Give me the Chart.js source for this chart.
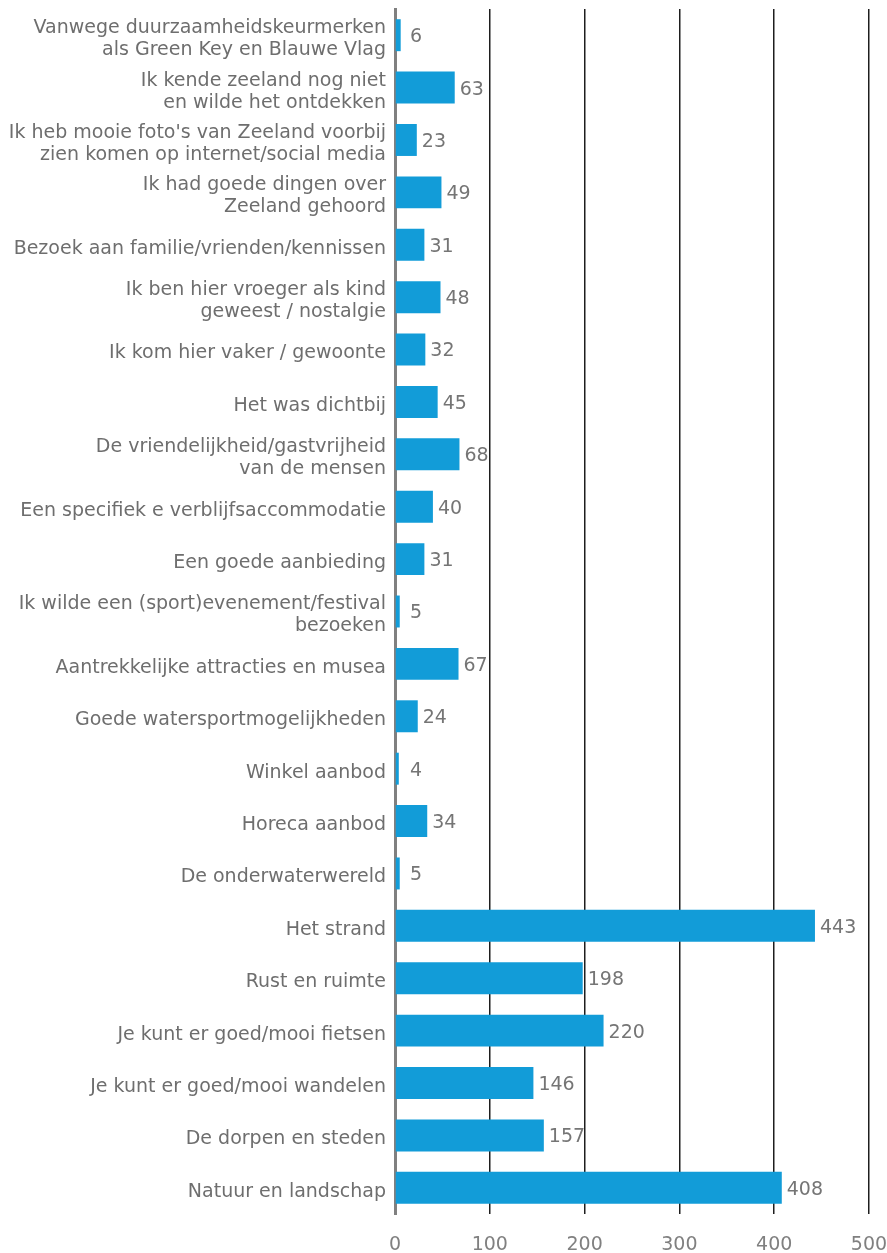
<!DOCTYPE html>
<html><head><meta charset="utf-8">
<script src="https://cdn.jsdelivr.net/npm/chart.js@4"></script>
<style>html,body{margin:0;padding:0;background:#fff;}#wrap{width:887px;height:1253px;}</style>
</head><body><div id="wrap"><canvas id="c"></canvas></div>
<script>
const categories = [
  ["Vanwege duurzaamheidskeurmerken","als Green Key en Blauwe Vlag"],
  ["Ik kende zeeland nog niet","en wilde het ontdekken"],
  ["Ik heb mooie foto's van Zeeland voorbij","zien komen op internet/social media"],
  ["Ik had goede dingen over","Zeeland gehoord"],
  "Bezoek aan familie/vrienden/kennissen",
  ["Ik ben hier vroeger als kind","geweest / nostalgie"],
  "Ik kom hier vaker / gewoonte",
  "Het was dichtbij",
  ["De vriendelijkheid/gastvrijheid","van de mensen"],
  "Een specifiek e verblijfsaccommodatie",
  "Een goede aanbieding",
  ["Ik wilde een (sport)evenement/festival","bezoeken"],
  "Aantrekkelijke attracties en musea",
  "Goede watersportmogelijkheden",
  "Winkel aanbod",
  "Horeca aanbod",
  "De onderwaterwereld",
  "Het strand",
  "Rust en ruimte",
  "Je kunt er goed/mooi fietsen",
  "Je kunt er goed/mooi wandelen",
  "De dorpen en steden",
  "Natuur en landschap"
];
const values = [6,63,23,49,31,48,32,45,68,40,31,5,67,24,4,34,5,443,198,220,146,157,408];
const xTicks = [0,100,200,300,400,500];

const FONT = "'DejaVu Sans', sans-serif";
const valueLabels = {
  id:'valueLabels',
  afterDatasetsDraw(chart){
    const ctx = chart.ctx;
    const meta = chart.getDatasetMeta(0);
    const xs = chart.scales.x;
    ctx.save();
    ctx.font = "19px " + FONT;
    ctx.fillStyle = '#757575';
    ctx.textBaseline = 'middle';
    ctx.textAlign = 'left';
    meta.data.forEach((bar,i)=>{
      const x = Math.max(bar.x + 5, xs.getPixelForValue(0) + 15);
      ctx.fillText(String(values[i]), x, bar.y + 2);
    });
    ctx.restore();
  }
};

new Chart(document.getElementById('c'), {
  type:'bar',
  data:{labels:categories, datasets:[{data:values, backgroundColor:'#129cd8', barPercentage:0.61, categoryPercentage:1.0}]},
  options:{
    indexAxis:'y', responsive:true, maintainAspectRatio:false, animation:false,
    layout:{padding:{top:9,right:18,left:0,bottom:0}},
    plugins:{legend:{display:false}, tooltip:{enabled:false}},
    scales:{
      x:{min:0,max:500, afterBuildTicks(s){s.ticks = xTicks.map(v=>({value:v}));},
        afterFit(s){ s.height = 39; s.paddingLeft = 0; s.paddingRight = 0; },
        grid:{drawTicks:false, color:(c)=>c.tick && c.tick.value===0 ? 'rgba(0,0,0,0)' : '#1e1e1e', lineWidth:1.5},
        border:{display:false},
        ticks:{padding:20, color:'#808080', font:{family:FONT, size:19}}
      },
      y:{
        afterFit(s){ s.width = 395; s.paddingTop = 0; s.paddingBottom = 0; },
        grid:{display:false, drawTicks:false},
        border:{display:true, color:'#808080', width:3},
        ticks:{padding:9, labelOffset:4, color:'#6e6e6e', font:{family:FONT, size:19, lineHeight:1.16}, autoSkip:false}
      }
    }
  },
  plugins:[valueLabels]
});
</script></body></html>
